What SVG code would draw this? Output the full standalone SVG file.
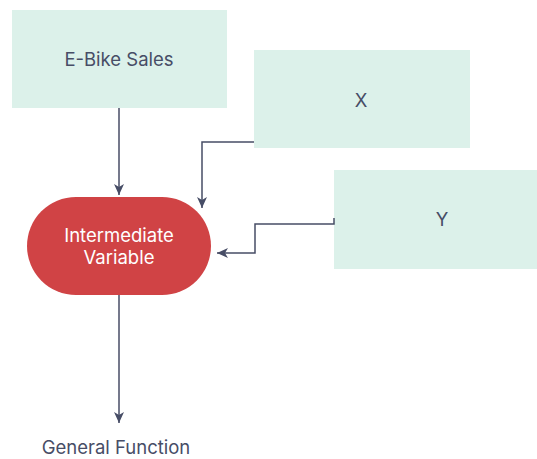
<svg xmlns="http://www.w3.org/2000/svg" width="537" height="459" viewBox="0 0 537 459">
<defs>
<style>
.box{fill:#dcf1ea}
.lbl{font-family:Inter,"Liberation Sans",sans-serif;font-size:18.5px;fill:#474d66;text-anchor:middle;dominant-baseline:central}
.wl{font-family:Inter,"Liberation Sans",sans-serif;font-size:18.5px;fill:#ffffff;text-anchor:middle;dominant-baseline:central}
.con{fill:none;stroke:#474d66;stroke-width:1.5}
</style>
<marker id="ah" viewBox="0 0 12 12" refX="11" refY="6" markerWidth="12" markerHeight="12" markerUnits="userSpaceOnUse" orient="auto">
<path d="M0,1 L11,6 L0,11 L3,6 Z" fill="#474d66"/>
</marker>
</defs>
<g id="node-ebike"><rect class="box" x="12" y="10" width="215" height="98"/><text class="lbl" x="119" y="59">E-Bike Sales</text></g>
<g id="node-x"><rect class="box" x="254" y="50" width="216" height="98"/><text class="lbl" x="361" y="100">X</text></g>
<g id="node-y"><rect class="box" x="334" y="170" width="216" height="99"/><text class="lbl" x="442" y="219">Y</text></g>
<g id="node-iv"><rect x="27" y="197" width="184" height="98" rx="49" fill="#d04345"/><text class="wl" x="119" y="235">Intermediate</text><text class="wl" x="119" y="257">Variable</text></g>
<g id="node-gf"><text class="lbl" x="116" y="447">General Function</text></g>
<g id="connectors">
<path class="con" d="M119,108 V195" marker-end="url(#ah)"/>
<path class="con" d="M254,142 H202 V208" marker-end="url(#ah)"/>
<path class="con" d="M334,218 V224 H255 V253 H217" marker-end="url(#ah)"/>
<path class="con" d="M119,295 V423" marker-end="url(#ah)"/>
</g>
</svg>
